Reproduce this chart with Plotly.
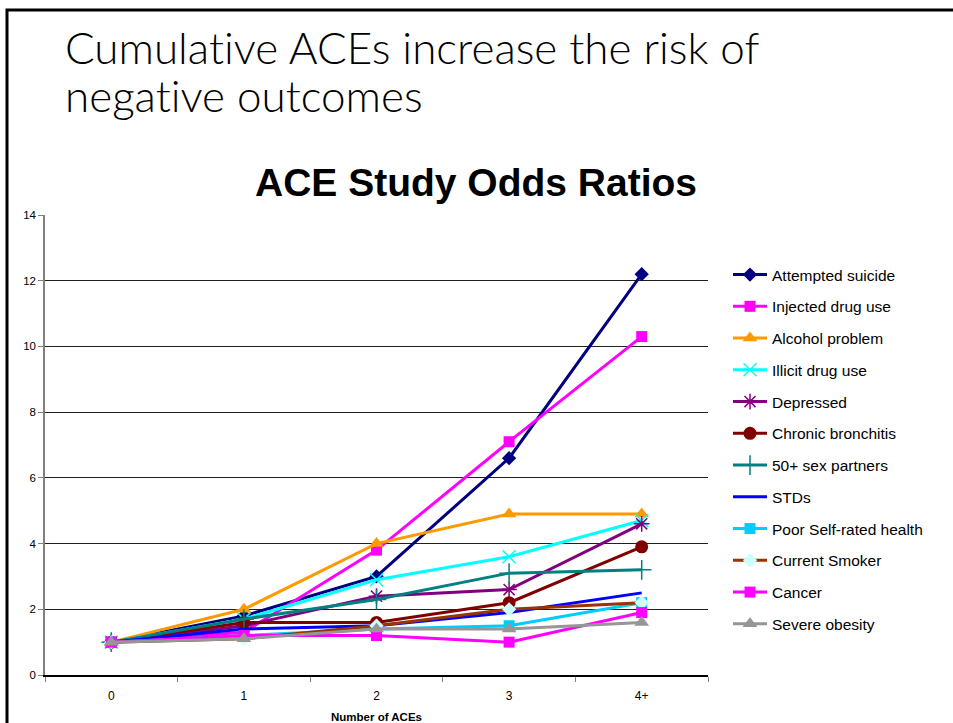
import plotly.graph_objects as go

# Odds ratios by number of adverse childhood experiences
categories = ["0", "1", "2", "3", "4+"]

attempted_suicide = [1.0, 1.8, 3.0, 6.6, 12.2]
injected_drug_use = [1.0, 1.3, 3.8, 7.1, 10.3]
alcohol_problem = [1.0, 2.0, 4.0, 4.9, 4.9]
illicit_drug_use = [1.0, 1.7, 2.9, 3.6, 4.7]
depressed = [1.0, 1.5, 2.4, 2.6, 4.6]
chronic_bronchitis = [1.0, 1.6, 1.6, 2.2, 3.9]
sex_partners_50 = [1.0, 1.7, 2.3, 3.1, 3.2]
stds = [1.0, 1.4, 1.5, 1.9, 2.5]
poor_health = [1.0, 1.2, 1.4, 1.5, 2.2]
current_smoker = [1.0, 1.1, 1.5, 2.0, 2.2]
cancer = [1.0, 1.2, 1.2, 1.0, 1.9]
severe_obesity = [1.0, 1.1, 1.4, 1.4, 1.6]

y_ticks = [0, 2, 4, 6, 8, 10, 12, 14]
grid_levels = [2, 4, 6, 8, 10, 12]

heading_lines = ["Cumulative ACEs increase the risk of", "negative outcomes"]

W, H = 953, 723
L, R, T, B = 45, 708, 215, 675  # plot area edges in pixels


def px_x(p):
    return (p - L) / (R - L)


def px_y(p):
    return (B - p) / (B - T)


series = [
    ("Attempted suicide", attempted_suicide, "#000080",
     dict(symbol="diamond", size=11, color="#000080")),
    ("Injected drug use", injected_drug_use, "#FF00FF",
     dict(symbol="square", size=11, color="#FF00FF")),
    ("Alcohol problem", alcohol_problem, "#FF9900",
     dict(symbol="triangle-up", size=13, color="#FF9900")),
    ("Illicit drug use", illicit_drug_use, "#00FFFF",
     dict(symbol="x-thin-open", size=13, color="#00FFFF", line=dict(width=1.5, color="#00FFFF"))),
    ("Depressed", depressed, "#800080",
     dict(symbol="asterisk-open", size=13, color="#800080", line=dict(width=1.5, color="#800080"))),
    ("Chronic bronchitis", chronic_bronchitis, "#800000",
     dict(symbol="circle", size=13, color="#800000")),
    ("50+ sex partners", sex_partners_50, "#008080",
     dict(symbol="cross-thin-open", size=14, color="#008080", line=dict(width=1.5, color="#008080"))),
    ("STDs", stds, "#0000FF", None),
    ("Poor Self-rated health", poor_health, "#00CCFF",
     dict(symbol="square", size=11, color="#00CCFF")),
    ("Current Smoker", current_smoker, "#993300",
     dict(symbol="diamond", size=11, color="#CCFFFF")),
    ("Cancer", cancer, "#FF00FF",
     dict(symbol="square", size=11, color="#FF00FF")),
    ("Severe obesity", severe_obesity, "#969696",
     dict(symbol="triangle-up", size=13, color="#969696")),
]

fig = go.Figure()
for i, (name, vals, color, marker) in enumerate(series):
    kw = dict(mode="lines+markers", marker=marker) if marker else dict(mode="lines")
    fig.add_trace(go.Scatter(
        x=categories, y=vals, name=name, legendgroup=f"g{i}",
        line=dict(color=color, width=3), cliponaxis=False, **kw))

fig.update_layout(
    width=W, height=H,
    margin=dict(l=L, r=W - R, t=T, b=H - B, autoexpand=False),
    paper_bgcolor="white", plot_bgcolor="white",
    font=dict(family="Liberation Sans, Arial, sans-serif", size=11, color="#000000"),
    showlegend=True,
    legend=dict(
        x=px_x(728), y=px_y(258), xanchor="left", yanchor="top",
        font=dict(size=15.5, color="#000000"), itemwidth=34,
        tracegroupgap=8.6, bgcolor="rgba(0,0,0,0)",
    ),
    xaxis=dict(
        type="category", range=[-0.5, 4.5], tickson="boundaries", automargin=False,
        ticks="outside", ticklen=5, tickcolor="#808080",
        showline=True, linecolor="#000000", linewidth=1.5,
        showgrid=False, zeroline=False, ticklabelstandoff=9,
        tickfont=dict(size=12, color="#000000"),
        title=dict(text="<b>Number of ACEs</b>", font=dict(size=11.5), standoff=14),
    ),
    yaxis=dict(
        range=[0, 14], tickvals=y_ticks, automargin=False,
        ticks="outside", ticklen=5, tickcolor="#808080",
        showline=True, linecolor="#808080", linewidth=1.5,
        showgrid=False, zeroline=False,
        tickfont=dict(size=11.5, color="#000000"),
        minor=dict(tickvals=grid_levels, showgrid=True, gridcolor="#202020",
                   gridwidth=1, ticks=""),
    ),
)

# Slide heading, one annotation per line
for line_text, centre in zip(heading_lines, [47, 95]):
    fig.add_annotation(
        text=line_text.replace("ti", "t\u200ci"),
        xref="paper", yref="paper", x=px_x(63), y=px_y(centre),
        xanchor="left", yanchor="middle", align="left", showarrow=False,
        font=dict(family="Lato, sans-serif", size=44, weight=300, color="#000000"),
    )

# Chart title
fig.add_annotation(
    text="<b>ACE Study Odds Ratios</b>",
    xref="paper", yref="paper", x=px_x(476), y=px_y(183),
    xanchor="center", yanchor="middle", showarrow=False,
    font=dict(family="Liberation Sans, Arial, sans-serif", size=39, color="#000000"),
)

# Slide frame
fig.add_shape(
    type="rect", xref="paper", yref="paper",
    x0=px_x(7), y0=px_y(10), x1=px_x(W + 20), y1=px_y(H + 20),
    line=dict(color="#000000", width=3), fillcolor="rgba(0,0,0,0)", layer="above",
)

fig.write_html("out.html")
